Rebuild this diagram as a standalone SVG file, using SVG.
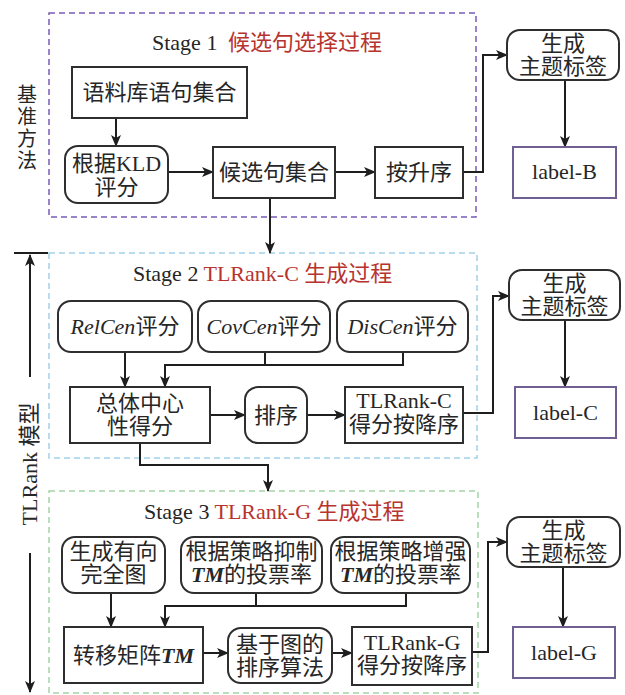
<svg xmlns="http://www.w3.org/2000/svg" width="625" height="695" viewBox="0 0 625 695">
<defs>
<marker id="ah" markerUnits="userSpaceOnUse" markerWidth="12" markerHeight="10" refX="11" refY="5" orient="auto">
<path d="M0,0 L12,5 L0,10 L3,5 Z" fill="#1e1e1e"/>
</marker>
<style>
text{font-family:"Liberation Serif","Noto Sans CJK SC",serif;font-size:22px;fill:#262626;text-anchor:middle}
.t{text-anchor:start}
.side{font-size:20px}
.red{fill:#b8332e}
.box{fill:#fff;stroke:#2e2e2e;stroke-width:2}
.lab{fill:#fff;stroke:#6f5f92;stroke-width:2}
.c{fill:none;stroke:#1e1e1e;stroke-width:2}
.a{marker-end:url(#ah)}
.it{font-style:italic}
.bi{font-style:italic;font-weight:bold}
.s1{fill:none;stroke:#7a5cb8;stroke-width:1.5;stroke-dasharray:6,4}
.s2{fill:none;stroke:#a3d2ea;stroke-width:1.5;stroke-dasharray:6,4}
.s3{fill:none;stroke:#a5d3a8;stroke-width:1.5;stroke-dasharray:6,4}
</style>
</defs>
<rect width="625" height="695" fill="#fff"/>

<g id="stages">
<rect class="s1" x="49" y="13" width="427" height="204"/>
<rect class="s2" x="49" y="253" width="428" height="205"/>
<rect class="s3" x="49" y="491" width="429" height="202"/>
<text class="t" x="152" y="50">Stage 1 <tspan class="red" dx="5">候选句选择过程</tspan></text>
<text class="t" x="133" y="281">Stage 2 <tspan class="red">TLRank-C 生成过程</tspan></text>
<text class="t" x="144" y="519">Stage 3 <tspan class="red">TLRank-G 生成过程</tspan></text>
</g>

<g id="side-labels">
<text class="side"><tspan x="27" y="102">基</tspan><tspan x="27" y="124">准</tspan><tspan x="27" y="146">方</tspan><tspan x="27" y="168">法</tspan></text>
<text transform="translate(37,464) rotate(-90)" x="0" y="0">TLRank 模型</text>
</g>

<g id="connectors">
<path class="c" d="M14 253 H48"/>
<path class="c a" d="M30 377 V255"/>
<path class="c a" d="M30 553 V692"/>
<path class="c a" d="M116 118 V146"/>
<path class="c a" d="M168 172 H213"/>
<path class="c a" d="M335 172 H375"/>
<path class="c a" d="M463 172 H483 V55 H507"/>
<path class="c a" d="M565 80 V147"/>
<path class="c a" d="M270 198 V253"/>
<path class="c a" d="M125 352 V387"/>
<path class="c" d="M265 352 V365"/>
<path class="c a" d="M403 352 V365 H165 V387"/>
<path class="c a" d="M210 415 H245"/>
<path class="c a" d="M307 415 H345"/>
<path class="c a" d="M463 413 H493 V296 H509"/>
<path class="c a" d="M565 320 V387"/>
<path class="c a" d="M140 443 V465 H268 V491"/>
<path class="c a" d="M111 593 V627"/>
<path class="c" d="M256 593 V606"/>
<path class="c a" d="M406 593 V606 H165 V627"/>
<path class="c a" d="M203 653 H228"/>
<path class="c a" d="M332 653 H352"/>
<path class="c a" d="M472 652 H488 V542 H507"/>
<path class="c a" d="M563 567 V627"/>
</g>

<g id="n-corpus"><rect class="box" x="72" y="67" width="175" height="51"/><text x="159.5" y="100">语料库语句集合</text></g>
<g id="n-kld"><rect class="box" x="65" y="146" width="103" height="57" rx="13"/><text x="116.5" y="171">根据KLD</text><text x="116.5" y="195">评分</text></g>
<g id="n-cand"><rect class="box" x="213" y="147" width="122" height="51"/><text x="274" y="180">候选句集合</text></g>
<g id="n-asc"><rect class="box" x="375" y="147" width="88" height="51"/><text x="419" y="180">按升序</text></g>
<g id="n-genB"><rect class="box" x="507" y="30" width="112" height="50" rx="13"/><text x="563" y="51">生成</text><text x="563" y="74">主题标签</text></g>
<g id="n-labelB"><rect class="lab" x="513" y="147" width="103" height="51"/><text x="564.5" y="179">label-B</text></g>

<g id="n-relcen"><rect class="box" x="58" y="301" width="134" height="51" rx="13"/><text x="125" y="334"><tspan class="it">RelCen</tspan>评分</text></g>
<g id="n-covcen"><rect class="box" x="198" y="301" width="132" height="51" rx="13"/><text x="264" y="334"><tspan class="it">CovCen</tspan>评分</text></g>
<g id="n-discen"><rect class="box" x="337" y="301" width="131" height="51" rx="13"/><text x="402.5" y="334"><tspan class="it">DisCen</tspan>评分</text></g>
<g id="n-overall"><rect class="box" x="70" y="387" width="140" height="56"/><text x="140" y="411">总体中心</text><text x="140" y="434">性得分</text></g>
<g id="n-sort"><rect class="box" x="245" y="387" width="62" height="56" rx="13"/><text x="276" y="423">排序</text></g>
<g id="n-rankC"><rect class="box" x="345" y="387" width="118" height="56"/><text x="404" y="408">TLRank-C</text><text x="404" y="432">得分按降序</text></g>
<g id="n-genC"><rect class="box" x="509" y="270" width="111" height="50" rx="13"/><text x="564.5" y="291">生成</text><text x="564.5" y="314">主题标签</text></g>
<g id="n-labelC"><rect class="lab" x="515" y="387" width="101" height="51"/><text x="565.5" y="420">label-C</text></g>

<g id="n-directed"><rect class="box" x="62" y="537" width="103" height="56" rx="13"/><text x="113.5" y="559">生成有向</text><text x="113.5" y="582">完全图</text></g>
<g id="n-suppress"><rect class="box" x="181" y="537" width="141" height="56" rx="13"/><text x="251.5" y="559">根据策略抑制</text><text x="251.5" y="582"><tspan class="bi">TM</tspan>的投票率</text></g>
<g id="n-enhance"><rect class="box" x="331" y="537" width="139" height="56" rx="13"/><text x="400.5" y="559">根据策略增强</text><text x="400.5" y="582"><tspan class="bi">TM</tspan>的投票率</text></g>
<g id="n-tm"><rect class="box" x="64" y="627" width="139" height="56"/><text x="133.5" y="663">转移矩阵<tspan class="bi">TM</tspan></text></g>
<g id="n-graphsort"><rect class="box" x="228" y="628" width="104" height="55" rx="13"/><text x="280" y="652">基于图的</text><text x="280" y="675">排序算法</text></g>
<g id="n-rankG"><rect class="box" x="352" y="627" width="120" height="58"/><text x="412" y="650">TLRank-G</text><text x="412" y="673">得分按降序</text></g>
<g id="n-genG"><rect class="box" x="507" y="517" width="113" height="50" rx="13"/><text x="563.5" y="538">生成</text><text x="563.5" y="561">主题标签</text></g>
<g id="n-labelG"><rect class="lab" x="513" y="627" width="102" height="51"/><text x="564" y="660">label-G</text></g>
</svg>
